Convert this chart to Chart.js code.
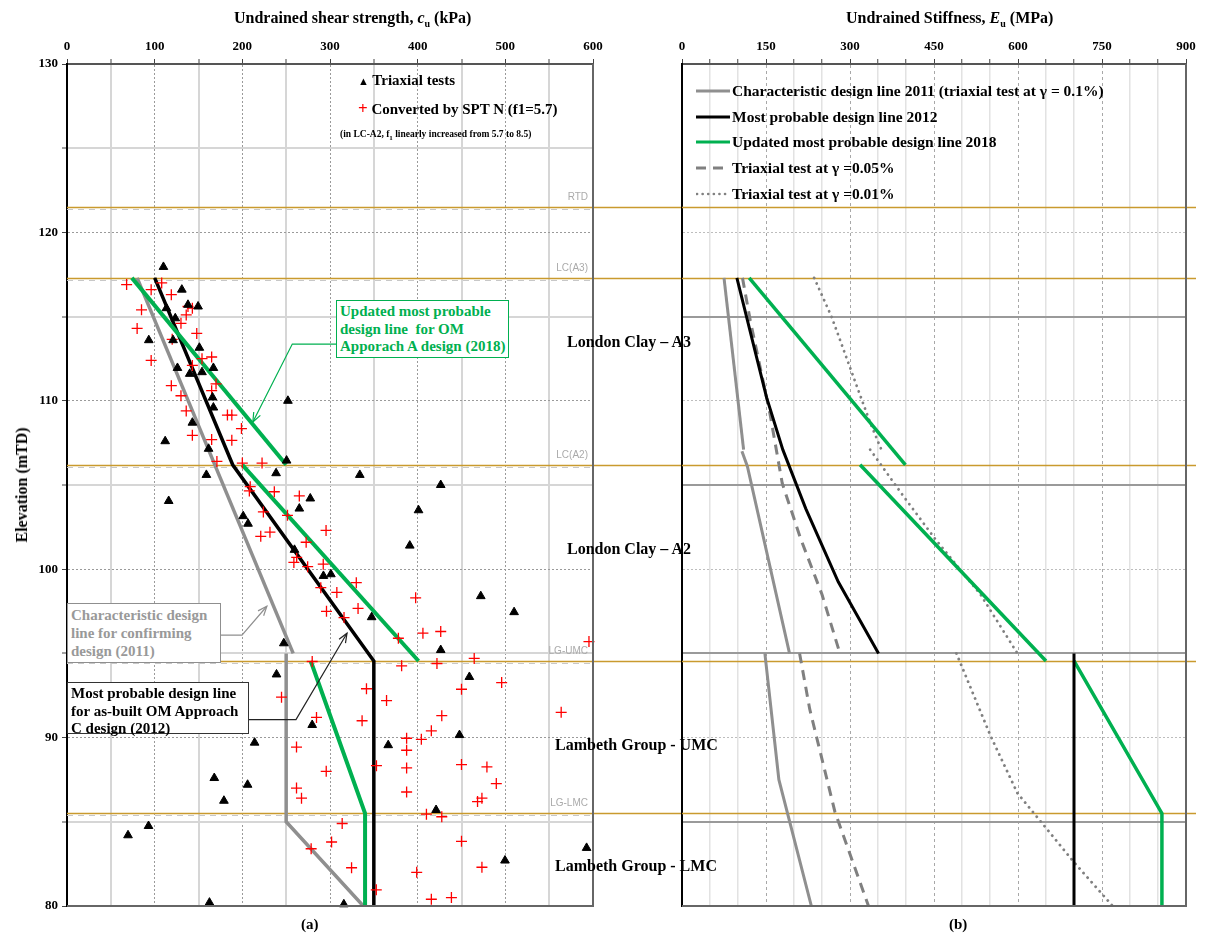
<!DOCTYPE html>
<html><head><meta charset="utf-8">
<script src="https://cdn.jsdelivr.net/npm/chart.js@4.4.1/dist/chart.umd.min.js"></script>
<style>
html,body{margin:0;padding:0;background:#fff;}
#wrap{position:relative;width:1219px;height:938px;overflow:hidden;font-family:'Liberation Serif','Times New Roman',serif;}
canvas{position:absolute;left:0;top:0;}
.t{position:absolute;white-space:nowrap;font-weight:bold;color:#000;z-index:5;}
.box{position:absolute;background:#fff;border:1px solid #000;font-weight:bold;font-size:15px;line-height:17.5px;padding:2px 3px;white-space:nowrap;z-index:5;box-sizing:border-box;}
.blab{position:absolute;font-family:'Liberation Sans',Arial,sans-serif;font-size:10px;color:#aaa;z-index:5;white-space:nowrap;}
.row{display:flex;align-items:center;height:25.75px;font-size:15.5px;font-weight:bold;}
.row svg{margin-right:2px;}
sub{font-size:10px;}
</style></head>
<body><div id="wrap">
<canvas id="c1" width="1219" height="938"></canvas>
<canvas id="c2" width="1219" height="938"></canvas>

<div class="t" style="left:234px;top:9px;font-size:16px;">Undrained shear strength, <i>c</i><sub>u</sub> (kPa)</div>
<div class="t" style="left:846px;top:9px;font-size:16px;">Undrained Stiffness, <i>E</i><sub>u</sub> (MPa)</div>
<div class="t" style="left:22px;top:485px;font-size:16px;transform:translate(-50%,-50%) rotate(-90deg);">Elevation (mTD)</div>

<div class="t" style="left:358px;top:72px;font-size:15px;"><span style="font-size:11px;">&#9650;</span> Triaxial tests</div>
<div class="t" style="left:358px;top:99px;font-size:15px;"><span style="color:#f00;font-size:17px;">+</span> Converted by SPT N (f1=5.7)</div>
<div class="t" style="left:340px;top:129px;font-size:9.5px;">(in LC-A2, f<sub style="font-size:7px">1</sub> linearly increased from 5.7 to 8.5)</div>

<div class="box" style="left:336px;top:300px;width:173px;height:58px;border-color:#00b050;color:#00b050;">Updated most probable<br>design line&nbsp; for OM<br>Apporach A design (2018)</div>
<div class="box" style="left:67px;top:603px;width:154px;height:60px;border-color:#8f8f8f;color:#999;line-height:18px;">Characteristic design<br>line for confirming<br>design (2011)</div>
<div class="box" style="left:67px;top:682px;width:182px;height:52px;border-color:#333;color:#000;">Most probable design line<br>for as-built OM Approach<br>C design (2012)</div>

<div class="t" style="left:567px;top:333px;font-size:16px;">London Clay – A3</div>
<div class="t" style="left:567px;top:540px;font-size:16px;">London Clay – A2</div>
<div class="t" style="left:555px;top:736px;font-size:16px;">Lambeth Group - UMC</div>
<div class="t" style="left:555px;top:857px;font-size:16px;">Lambeth Group - LMC</div>

<div class="t" style="left:301px;top:916px;font-size:15px;">(a)</div>
<div class="t" style="left:949px;top:916px;font-size:15px;">(b)</div>

<div class="t" style="left:696px;top:78px;">
 <div class="row"><svg width="34" height="8"><line x1="0" y1="4" x2="34" y2="4" stroke="#8f8f8f" stroke-width="3"/></svg>Characteristic design line 2011 (triaxial test at γ = 0.1%)</div>
 <div class="row"><svg width="34" height="8"><line x1="0" y1="4" x2="34" y2="4" stroke="#000" stroke-width="3"/></svg>Most probable design line 2012</div>
 <div class="row"><svg width="34" height="8"><line x1="0" y1="4" x2="34" y2="4" stroke="#00b050" stroke-width="3"/></svg>Updated most probable design line 2018</div>
 <div class="row"><svg width="34" height="8"><line x1="0" y1="4" x2="34" y2="4" stroke="#808080" stroke-width="3" stroke-dasharray="10 7"/></svg>Triaxial test at γ =0.05%</div>
 <div class="row"><svg width="34" height="8"><line x1="1" y1="4" x2="34" y2="4" stroke="#808080" stroke-width="2.6" stroke-dasharray="0.1 5.5" stroke-linecap="round"/></svg>Triaxial test at γ =0.01%</div>
</div>
</div>
<script>
// ---------- boundaries ----------
const elevBounds = [121.5, 117.3, 106.2, 94.55, 85.5];
const boundLabels = ['RTD', 'LC(A3)', 'LC(A2)', 'LG-UMC', 'LG-LMC'];

// ---------- panel (a): undrained shear strength cu (kPa) vs elevation (mTD) ----------
const triaxialCu = [110,131,113.4,138,149.5,123.5,93.3,121,151,126, 140,154,167,166,167,143,112,161.5,252,
  250.5,159,238.5,334,116,277.5,265,201,206.5,259.5, 292.5,301,347.5,247.3,391,426.3,401,472,510,426.3,
  239,279.7,214,168,206,179,93,69.6,162.5,315.8, 459,366.4,447.7,421,592.7,499.6];
const triaxialElev = [117.95,116.6,115.5,115.7,115.6,114.9,113.6,113.6,113.15,111.95, 111.6,111.7,111.95,110.2,109.6,108.7,107.6,107.15,110.0,
  106.45,105.6,105.7,105.6,104.05,104.2,103.6,103.15,102.7,101.15, 99.6,99.7,97.15,95.6,101.4,105.0,103.5,98.4,97.45,95.2,
  93.75,90.75,89.7,87.6,87.2,86.25,84.75,84.2,80.2,80.1, 93.6,89.55,90.15,85.7,83.45,82.7];

const sptCu = [68,96,108,119,85,138,143,136,130,80, 148,120,96,165,154,143,170,165,119,130, 136,183,188,199,143,165,188,171,200,222.5,
  209,208,236.5,265,224,251.5,295.5,221,231.5,272.8, 262,258.8,274.5,292.3,289.5,307.8,330,296,332,316, 378,397.7,406,426.3,595.4,464.5,
  381.7,422,341.6,495.8,364.5,450,563.7,336.6,427.5,415.6, 387.4,404.2,387.4,353,387.4,450,479,489.7,387.4,468.3, 473.3,410,427.5,450,473.3,398.9,352.8,415.6,438.5,
  279.7,244.7,284.6,261.8,295.7,261.8,267.5,313.9,301.8,278.5,324.6];
const sptElev = [116.9,116.6,117.0,116.3,115.4,115.6,115.5,115.1,114.6,114.3, 114.0,113.65,112.4,112.6,112.5,112.1,111.0,110.6,110.9,110.3, 109.4,109.15,109.15,108.35,107.95,107.7,107.65,106.4,106.3,106.3,
  104.9,104.65,104.6,104.35,103.4,103.2,102.3,101.95,102.2,101.6, 100.7,100.4,100.15,100.3,98.9,98.62,99.2,97.5,97.67,97.13, 95.9,98.3,96.2,96.3,95.7,94.7,
  94.26,94.4,92.9,93.27,92.2,92.87,91.5,91.0,91.3,90.4, 89.96,89.9,89.25,88.33,88.2,88.4,88.26,87.27,86.77,86.2, 86.4,85.45,85.3,83.84,82.3,82.0,80.96,80.4,80.5,
  94.52,92.4,91.2,89.44,88.0,87.0,86.4,84.9,83.8,83.4,82.27];

const char2011CuA = [80, 258];          const char2011ElevA = [117.3, 95.0];
const char2011CuB = [250, 250, 338];    const char2011ElevB = [95.0, 85.0, 80];
const mp2012Cu = [100, 189, 350, 350];  const mp2012Elev = [117.3, 106.2, 94.55, 80];
const upd2018CuA = [74, 250];           const upd2018ElevA = [117.3, 106.2];
const upd2018CuB = [200, 401];          const upd2018ElevB = [106.2, 94.55];
const upd2018CuC = [278, 340, 340];     const upd2018ElevC = [94.55, 85.5, 80];

// annotation arrows (box edge -> elbow -> tip), in data units of panel (a)
const arrowUpdCu = [307, 257, 212];     const arrowUpdElev = [113.37, 113.37, 108.74];
const arrowCharCu = [174.5, 199.6, 228]; const arrowCharElev = [96.08, 96.08, 97.8];
const arrowMpCu = [206.4, 261.2, 319.4]; const arrowMpElev = [91.07, 91.07, 96.2];

// ---------- panel (b): undrained stiffness Eu (MPa) ----------
const charE_A = [75, 110];              const charElev_A = [117.3, 107.1];
const charE_B = [107, 116.8, 192];      const charElev_B = [107.0, 106.1, 95.0];
const charE_C = [148, 173, 231];        const charElev_C = [95.0, 87.5, 80];
const mpE_A = [98, 151, 180, 221, 279, 351]; const mpElev_A = [117.3, 110.2, 107.1, 103.6, 99.25, 95.0];
const mpE_B = [700, 700];               const mpElev_B = [95.0, 80];
const updE_A = [120, 399];              const updElev_A = [117.3, 106.2];
const updE_B = [318, 650];              const updElev_B = [106.2, 94.55];
const updE_C = [700, 857, 857];         const updElev_C = [94.55, 85.5, 80];
const t005E_A = [108, 122, 157, 179, 212, 250, 282]; const t005Elev_A = [117.3, 114.75, 109.25, 105.1, 101.8, 98.5, 95.0];
const t005E_B = [210, 228, 273, 333];   const t005Elev_B = [95.0, 91.7, 85.6, 80];
const t001E_A = [236, 267, 302, 336, 356]; const t001Elev_A = [117.3, 115, 111.8, 108.7, 107.1];
const t001E_B = [336, 394, 452, 533, 599]; const t001Elev_B = [107.1, 104.4, 101.8, 98.5, 95.0];
const t001E_C = [490, 551, 599, 641, 700, 769]; const t001Elev_C = [95.0, 90.1, 86.7, 85.0, 82.6, 80];

// ---------- helpers ----------
const W = 1219, H = 938;
const LEFT = {l: 67, t: 64, r: 593, b: 906};
const RIGHT = {l: 682, t: 64, r: 1186, b: 906};
const GOLD = '#c99a2e';
const GREEN = '#00b050';
const GRAY = '#8f8f8f';
const xy = (xs, ys) => xs.map((v, i) => ({x: v, y: ys[i]}));
const tickFont = {family: "'Liberation Serif', serif", size: 13, weight: 'bold'};
const lineDs = (xs, ys, color, w, extra) => Object.assign({
  data: xy(xs, ys), showLine: true, pointRadius: 0, borderColor: color, backgroundColor: color,
  borderWidth: w, fill: false, tension: 0, borderCapStyle: 'butt', borderJoinStyle: 'miter'
}, extra || {});

function drawArrow(ctx, pts, color) {
  ctx.save();
  ctx.strokeStyle = color; ctx.lineWidth = 1.2; ctx.setLineDash([]);
  ctx.beginPath();
  pts.forEach((p, i) => i ? ctx.lineTo(p[0], p[1]) : ctx.moveTo(p[0], p[1]));
  ctx.stroke();
  const [x1, y1] = pts[pts.length - 2], [x2, y2] = pts[pts.length - 1];
  const a = Math.atan2(y2 - y1, x2 - x1), L = 10, s = 0.38;
  ctx.beginPath();
  ctx.moveTo(x2 - L * Math.cos(a - s), y2 - L * Math.sin(a - s));
  ctx.lineTo(x2, y2);
  ctx.lineTo(x2 - L * Math.cos(a + s), y2 - L * Math.sin(a + s));
  ctx.stroke();
  ctx.restore();
}

const decorA = {
  id: 'decorA',
  beforeDatasetsDraw(chart) {
    const {ctx, chartArea: a, scales: {y}} = chart;
    ctx.save();
    elevBounds.forEach(e => {
      const py = Math.round(y.getPixelForValue(e));
      ctx.setLineDash([6, 5]); ctx.strokeStyle = '#c8c8c8'; ctx.lineWidth = 1;
      ctx.beginPath(); ctx.moveTo(a.left, py + 2.5); ctx.lineTo(a.right, py + 2.5); ctx.stroke();
      ctx.setLineDash([]); ctx.strokeStyle = GOLD; ctx.lineWidth = 1.6;
      ctx.beginPath(); ctx.moveTo(a.left, py + 0.5); ctx.lineTo(RIGHT.l, py + 0.5); ctx.stroke();
    });
    ctx.restore();
  },
  afterDraw(chart) {
    const {ctx, chartArea: a, scales: {x, y}} = chart;
    ctx.save();
    ctx.strokeStyle = '#666'; ctx.lineWidth = 2;
    ctx.beginPath(); ctx.moveTo(a.right, a.top); ctx.lineTo(a.right, a.bottom); ctx.lineTo(a.left, a.bottom); ctx.stroke();
    ctx.restore();
    const P = (xs, ys) => xs.map((v, i) => [x.getPixelForValue(v), y.getPixelForValue(ys[i])]);
    drawArrow(ctx, P(arrowUpdCu, arrowUpdElev), GREEN);
    drawArrow(ctx, P(arrowCharCu, arrowCharElev), GRAY);
    drawArrow(ctx, P(arrowMpCu, arrowMpElev), '#222');
  }
};

const decorB = {
  id: 'decorB',
  beforeDatasetsDraw(chart) {
    const {ctx, chartArea: a, scales: {y}} = chart;
    ctx.save();
    elevBounds.forEach(e => {
      const py = Math.round(y.getPixelForValue(e)) + 0.5;
      ctx.strokeStyle = GOLD; ctx.lineWidth = 1.6;
      ctx.beginPath(); ctx.moveTo(a.left, py); ctx.lineTo(a.right + 10, py); ctx.stroke();
    });
    ctx.restore();
  },
  afterDraw(chart) {
    const {ctx, chartArea: a} = chart;
    ctx.save();
    ctx.strokeStyle = '#666'; ctx.lineWidth = 2;
    ctx.beginPath(); ctx.moveTo(a.right, a.top); ctx.lineTo(a.right, a.bottom); ctx.lineTo(a.left, a.bottom); ctx.stroke();
    ctx.restore();
  }
};

const common = {responsive: false, animation: false, events: [],
  plugins: {legend: {display: false}, tooltip: {enabled: false}}};

// ---------- chart (a) ----------
const chartA = new Chart(document.getElementById('c1'), {
  type: 'scatter',
  data: {datasets: [
    {data: xy(triaxialCu, triaxialElev), pointStyle: 'triangle', pointRadius: 5, backgroundColor: '#000', borderColor: '#000', borderWidth: 1, clip: false},
    {data: xy(sptCu, sptElev), pointStyle: 'cross', pointRadius: 5.5, borderColor: '#ff0000', backgroundColor: '#ff0000', borderWidth: 1.3, clip: false},
    lineDs(upd2018CuA, upd2018ElevA, GREEN, 4),
    lineDs(upd2018CuB, upd2018ElevB, GREEN, 4),
    lineDs(upd2018CuC, upd2018ElevC, GREEN, 4),
    lineDs(mp2012Cu, mp2012Elev, '#000', 3.5),
    lineDs(char2011CuA, char2011ElevA, GRAY, 3.5),
    lineDs(char2011CuB, char2011ElevB, GRAY, 3.5)
  ]},
  options: Object.assign({}, common, {
    layout: {padding: {left: 0, top: 0, right: W - LEFT.r, bottom: H - LEFT.b}},
    scales: {
      x: {type: 'linear', position: 'top', min: 0, max: 600,
        afterFit(s) { s.height = LEFT.t; },
        ticks: {stepSize: 50, autoSkip: false, maxRotation: 0, padding: 5, color: '#000', font: tickFont,
          callback: v => (v % 100 === 0 ? String(v) : '')},
        grid: {color: c => (c.tick && c.tick.value % 100 === 0) ? '#9a9a9a' : '#d6d6d6',
          lineWidth: c => (c.tick && c.tick.value % 100 === 0) ? 1 : 2,
          tickLength: 5, tickColor: '#444', tickWidth: 1},
        border: {display: true, color: '#555', width: 2, dash: c => (c.tick && c.tick.value % 100 === 0) ? [2, 2] : []}},
      y: {type: 'linear', min: 80, max: 130,
        afterFit(s) { s.width = LEFT.l; },
        ticks: {stepSize: 5, autoSkip: false, padding: 4, color: '#000', font: tickFont,
          callback: v => (v % 10 === 0 ? String(v) : '')},
        grid: {color: c => (c.tick && c.tick.value % 10 === 0) ? '#9a9a9a' : '#d6d6d6',
          lineWidth: c => (c.tick && c.tick.value % 10 === 0) ? 1 : 2,
          tickLength: 5, tickColor: '#444', tickWidth: 1},
        border: {display: true, color: '#000', width: 2, dash: c => (c.tick && c.tick.value % 10 === 0) ? [2, 2] : []}}
    }
  }),
  plugins: [decorA]
});

// ---------- chart (b) ----------
new Chart(document.getElementById('c2'), {
  type: 'scatter',
  data: {datasets: [
    lineDs(mpE_A, mpElev_A, '#000', 3),
    lineDs(mpE_B, mpElev_B, '#000', 3),
    lineDs(updE_A, updElev_A, GREEN, 3.5),
    lineDs(updE_B, updElev_B, GREEN, 3.5),
    lineDs(updE_C, updElev_C, GREEN, 3.5),
    lineDs(charE_A, charElev_A, GRAY, 3),
    lineDs(charE_B, charElev_B, GRAY, 3),
    lineDs(charE_C, charElev_C, GRAY, 3),
    lineDs(t005E_A, t005Elev_A, '#808080', 3, {borderDash: [10, 7]}),
    lineDs(t005E_B, t005Elev_B, '#808080', 3, {borderDash: [10, 7]}),
    lineDs(t001E_A, t001Elev_A, '#808080', 2.8, {borderDash: [0.1, 6], borderCapStyle: 'round'}),
    lineDs(t001E_B, t001Elev_B, '#808080', 2.8, {borderDash: [0.1, 6], borderCapStyle: 'round'}),
    lineDs(t001E_C, t001Elev_C, '#808080', 2.8, {borderDash: [0.1, 6], borderCapStyle: 'round'})
  ]},
  options: Object.assign({}, common, {
    layout: {padding: {left: RIGHT.l, top: 0, right: W - RIGHT.r, bottom: H - RIGHT.b}},
    scales: {
      x: {type: 'linear', position: 'top', min: 0, max: 900,
        afterFit(s) { s.height = RIGHT.t; },
        ticks: {stepSize: 50, autoSkip: false, maxRotation: 0, padding: 5, color: '#000', font: tickFont,
          callback: v => (v % 150 === 0 ? String(v) : '')},
        grid: {color: c => (c.tick && c.tick.value % 150 === 0) ? '#a8a8a8' : '#e2e2e2',
          lineWidth: c => (c.tick && c.tick.value % 150 === 0) ? 1 : 1.5,
          tickLength: 5, tickColor: '#444', tickWidth: 1},
        border: {display: true, color: '#555', width: 2, dash: c => (c.tick && c.tick.value % 150 === 0) ? [3, 3] : []}},
      y: {type: 'linear', min: 80, max: 130,
        afterFit(s) { s.width = 0; },
        ticks: {display: false, stepSize: 5, autoSkip: false},
        grid: {drawTicks: false,
          color: c => {
            if (!c.tick) return '#000';
            const v = c.tick.value;
            if (v === 125) return 'rgba(0,0,0,0)';
            return v % 10 === 0 ? '#bdbdbd' : '#9a9a9a';
          },
          lineWidth: c => (c.tick && c.tick.value % 10 === 0) ? 1 : 2},
        border: {display: true, color: '#000', width: 2, dash: c => (c.tick && c.tick.value % 10 === 0) ? [2, 2] : []}}
    }
  }),
  plugins: [decorB]
});

// boundary labels in panel (a)
const wrap = document.getElementById('wrap');
const ys = chartA.scales.y;
boundLabels.forEach((t, i) => {
  const d = document.createElement('div');
  d.className = 'blab';
  d.textContent = t;
  d.style.top = (ys.getPixelForValue(elevBounds[i]) - 16) + 'px';
  d.style.right = (W - LEFT.r + 5) + 'px';
  wrap.appendChild(d);
});
</script>
</body></html>
